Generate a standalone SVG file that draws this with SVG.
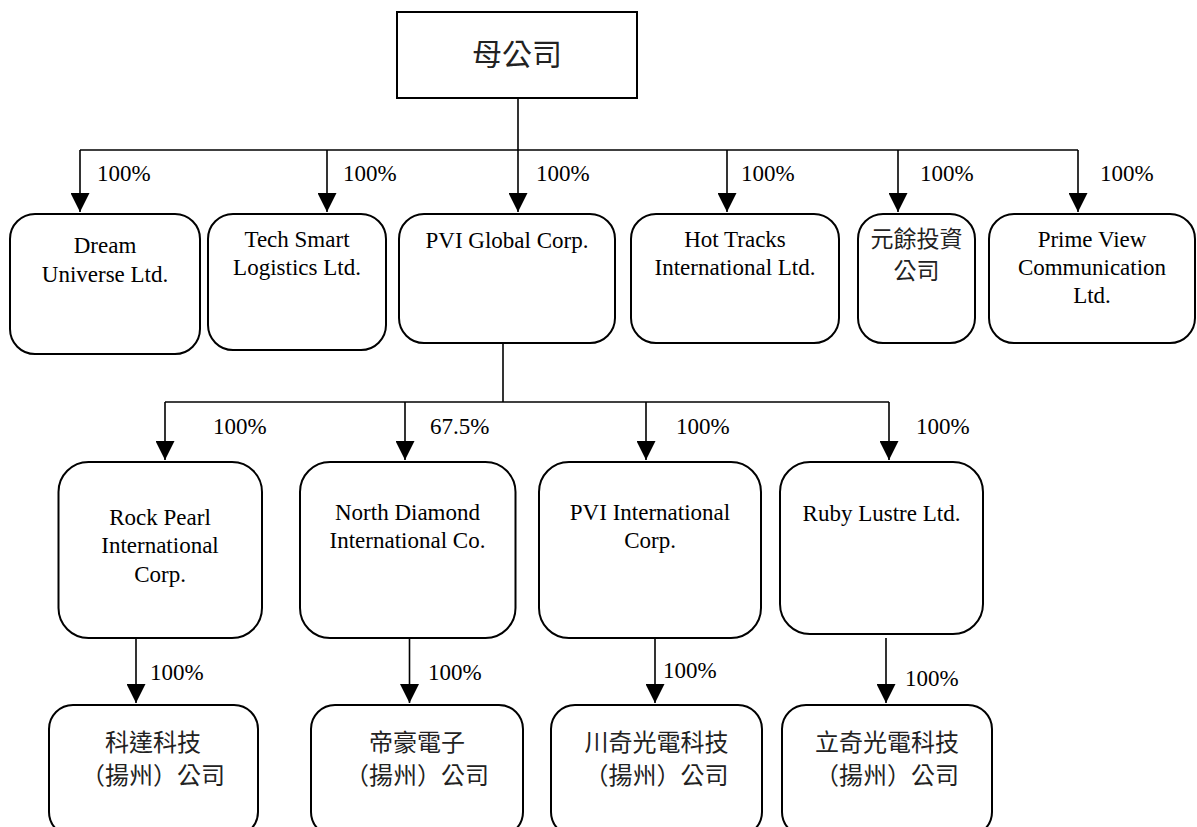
<svg xmlns="http://www.w3.org/2000/svg" width="1197" height="827" viewBox="0 0 1197 827">
<defs>
<marker id="arr" viewBox="0 0 20 20" refX="20" refY="10" markerWidth="19" markerHeight="19" markerUnits="userSpaceOnUse" orient="auto">
<path d="M0,0 L20,10 L0,20 z" fill="#000"/>
</marker>
<style>
.box{fill:#fff;stroke:#000;stroke-width:2}
.ln{fill:none;stroke:#000;stroke-width:1.6}
.ar{fill:none;stroke:#000;stroke-width:1.6;marker-end:url(#arr)}
.t{font-family:"Liberation Serif","Times New Roman",serif;font-size:23px;fill:#000;text-anchor:middle}
.p{font-family:"Liberation Serif","Times New Roman",serif;font-size:23px;fill:#000}
.c{font-family:"Noto Sans CJK TC","Noto Sans CJK SC",sans-serif;font-size:24px;fill:#222;text-anchor:middle}
</style>
</defs>
<rect width="1197" height="827" fill="#fff"/>

<g id="connectors">
<line class="ln" x1="518" y1="98" x2="518" y2="150"/>
<line class="ln" x1="80" y1="150" x2="1078" y2="150"/>
<line class="ar" x1="80" y1="150" x2="80" y2="212"/>
<line class="ar" x1="327" y1="150" x2="327" y2="212"/>
<line class="ar" x1="518" y1="150" x2="518" y2="212"/>
<line class="ar" x1="727" y1="150" x2="727" y2="212"/>
<line class="ar" x1="898" y1="150" x2="898" y2="212"/>
<line class="ar" x1="1078" y1="150" x2="1078" y2="212"/>
<text class="p" x="97" y="181">100%</text>
<text class="p" x="343" y="181">100%</text>
<text class="p" x="536" y="181">100%</text>
<text class="p" x="741" y="181">100%</text>
<text class="p" x="920" y="181">100%</text>
<text class="p" x="1100" y="181">100%</text>

<line class="ln" x1="503" y1="343" x2="503" y2="402"/>
<line class="ln" x1="165" y1="402" x2="889" y2="402"/>
<line class="ar" x1="165" y1="402" x2="165" y2="460"/>
<line class="ar" x1="405" y1="402" x2="405" y2="460"/>
<line class="ar" x1="646" y1="402" x2="646" y2="460"/>
<line class="ar" x1="889" y1="402" x2="889" y2="460"/>
<text class="p" x="213" y="434">100%</text>
<text class="p" x="430" y="434">67.5%</text>
<text class="p" x="676" y="434">100%</text>
<text class="p" x="916" y="434">100%</text>

<line class="ar" x1="136" y1="638" x2="136" y2="703"/>
<line class="ar" x1="409.5" y1="638" x2="409.5" y2="703"/>
<line class="ar" x1="655" y1="638" x2="655" y2="703"/>
<line class="ar" x1="886" y1="638" x2="886" y2="703"/>
<text class="p" x="150" y="680">100%</text>
<text class="p" x="428" y="680">100%</text>
<text class="p" x="663" y="678">100%</text>
<text class="p" x="905" y="686">100%</text>
</g>

<g id="parent">
<rect class="box" x="397" y="12" width="240" height="86"/>
<text class="c" x="517" y="65" style="font-size:30px">母公司</text>
</g>

<g id="dream">
<rect class="box" x="10" y="214" width="190" height="140" rx="25" ry="25"/>
<text class="t" x="105" y="253">Dream</text>
<text class="t" x="105" y="282">Universe Ltd.</text>
</g>
<g id="techsmart">
<rect class="box" x="208" y="214" width="178" height="136" rx="25" ry="25"/>
<text class="t" x="297" y="247">Tech Smart</text>
<text class="t" x="297" y="275">Logistics Ltd.</text>
</g>
<g id="pviglobal">
<rect class="box" x="399" y="214" width="216" height="129" rx="25" ry="25"/>
<text class="t" x="507" y="248">PVI Global Corp.</text>
</g>
<g id="hottracks">
<rect class="box" x="631" y="214" width="208" height="129" rx="25" ry="25"/>
<text class="t" x="735" y="247">Hot Tracks</text>
<text class="t" x="735" y="275">International Ltd.</text>
</g>
<g id="yuanyu">
<rect class="box" x="858" y="214" width="117" height="129" rx="25" ry="25"/>
<text class="c" x="916.5" y="247" style="font-size:23px">元餘投資</text>
<text class="c" x="916.5" y="279" style="font-size:23px">公司</text>
</g>
<g id="primeview">
<rect class="box" x="989" y="214" width="206" height="129" rx="25" ry="25"/>
<text class="t" x="1092" y="247">Prime View</text>
<text class="t" x="1092" y="275">Communication</text>
<text class="t" x="1092" y="303">Ltd.</text>
</g>

<g id="rockpearl">
<rect class="box" x="58.5" y="462" width="203.5" height="176" rx="30" ry="30"/>
<text class="t" x="160" y="525">Rock Pearl</text>
<text class="t" x="160" y="553">International</text>
<text class="t" x="160" y="582">Corp.</text>
</g>
<g id="northdiamond">
<rect class="box" x="300" y="462" width="215.5" height="176" rx="30" ry="30"/>
<text class="t" x="407.5" y="520">North Diamond</text>
<text class="t" x="407.5" y="548">International Co.</text>
</g>
<g id="pviintl">
<rect class="box" x="539" y="462" width="222" height="176" rx="30" ry="30"/>
<text class="t" x="650" y="520">PVI International</text>
<text class="t" x="650" y="548">Corp.</text>
</g>
<g id="rubylustre">
<rect class="box" x="780" y="462" width="203" height="172" rx="30" ry="30"/>
<text class="t" x="881.5" y="521">Ruby Lustre Ltd.</text>
</g>

<g id="keda">
<rect class="box" x="49" y="705" width="209" height="131" rx="24" ry="24"/>
<text class="c" x="153" y="751">科達科技</text>
<text class="c" x="153" y="784">（揚州）公司</text>
</g>
<g id="dihao">
<rect class="box" x="311" y="705" width="212" height="131" rx="24" ry="24"/>
<text class="c" x="417" y="751">帝豪電子</text>
<text class="c" x="417" y="784">（揚州）公司</text>
</g>
<g id="chuanqi">
<rect class="box" x="551" y="705" width="211" height="131" rx="24" ry="24"/>
<text class="c" x="656.5" y="751">川奇光電科技</text>
<text class="c" x="656.5" y="784">（揚州）公司</text>
</g>
<g id="liqi">
<rect class="box" x="782" y="705" width="210" height="131" rx="24" ry="24"/>
<text class="c" x="887" y="751">立奇光電科技</text>
<text class="c" x="887" y="784">（揚州）公司</text>
</g>
</svg>
